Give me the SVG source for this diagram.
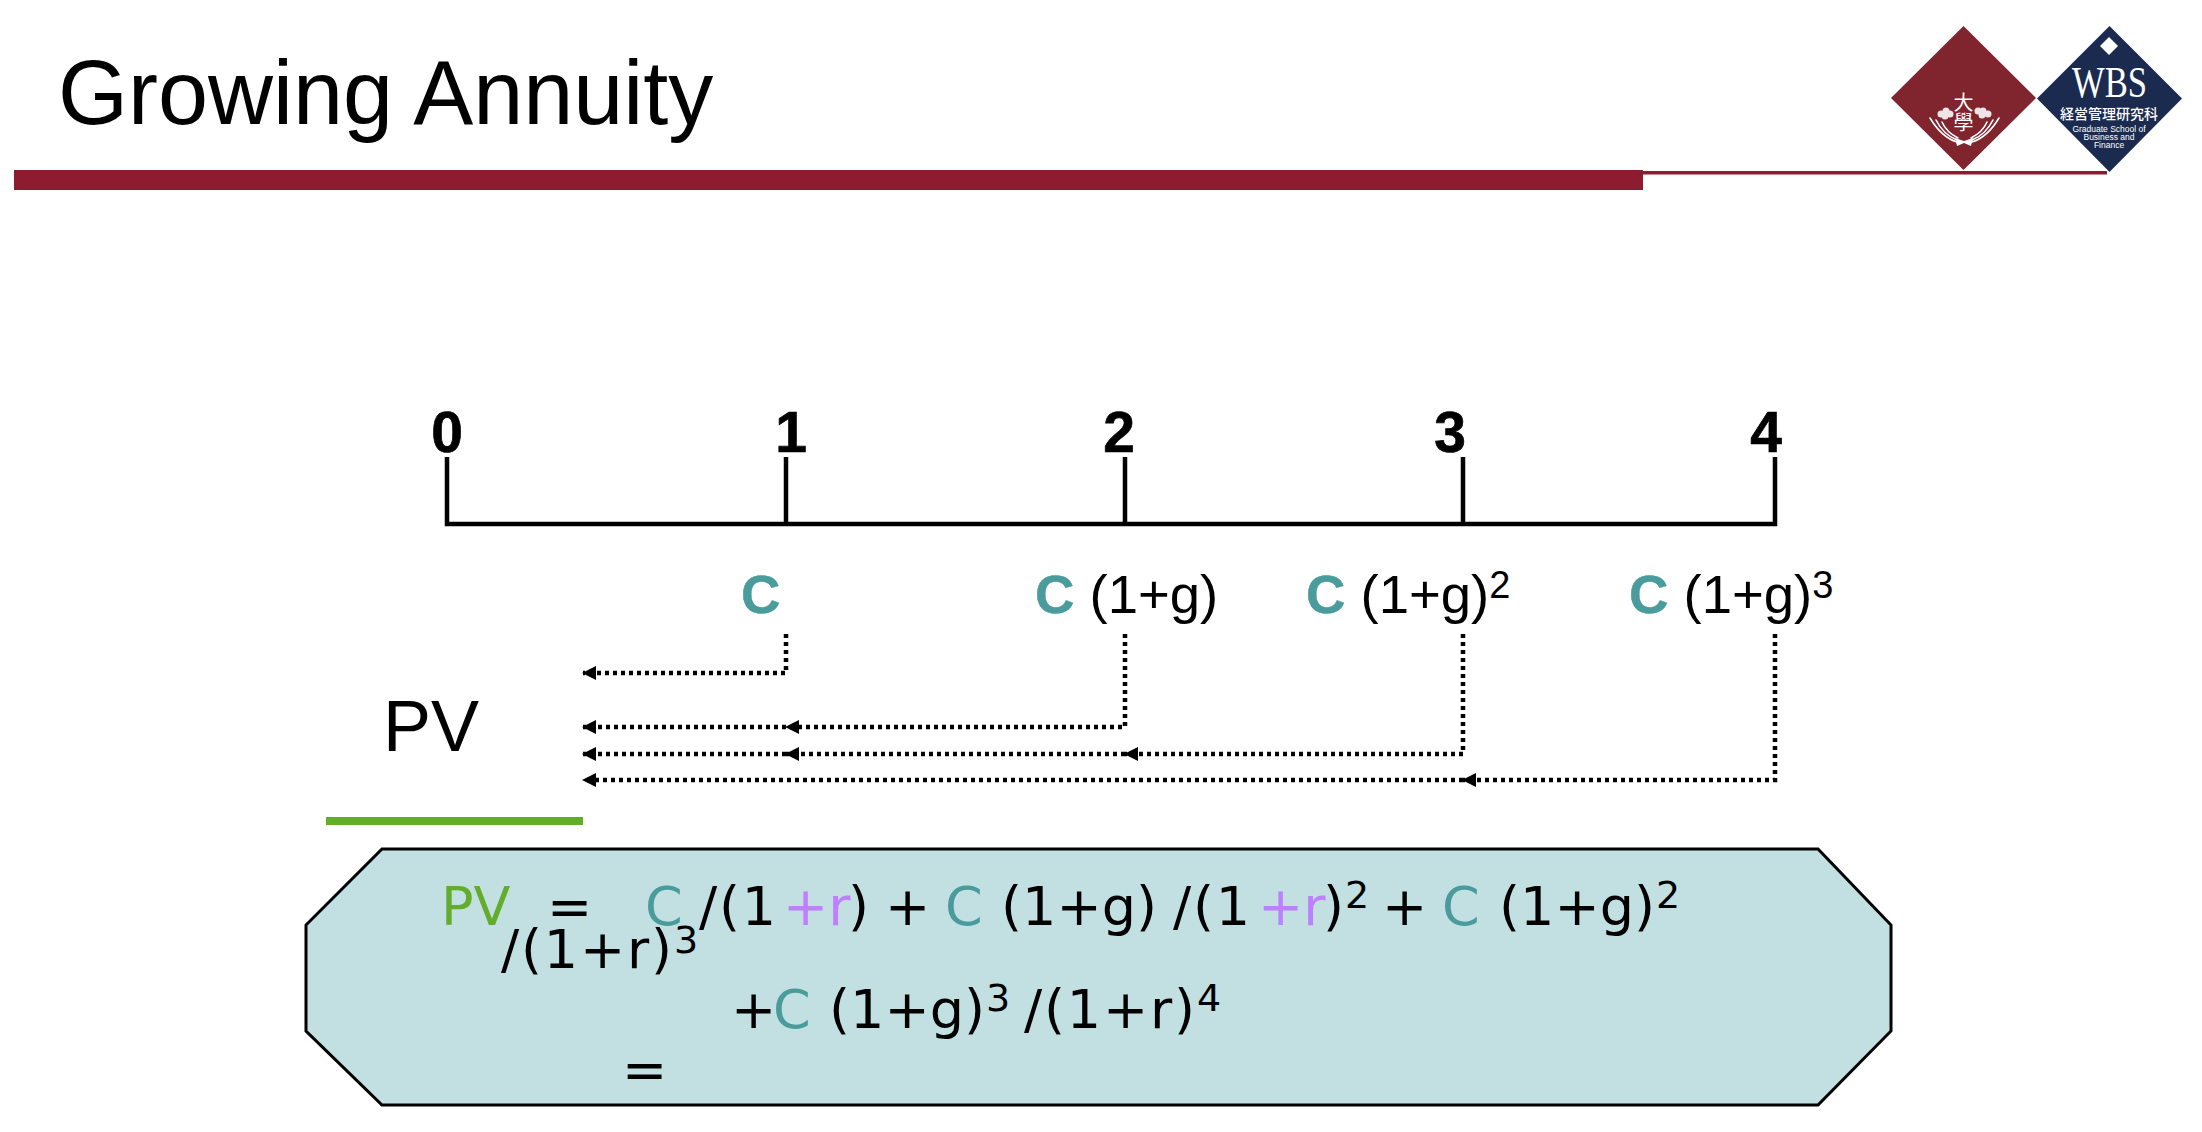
<svg xmlns="http://www.w3.org/2000/svg" width="2202" height="1132" viewBox="0 0 2202 1132">
<style>
.s{font-family:"Liberation Sans",Arial,sans-serif}
.d{font-family:"DejaVu Sans",Verdana,sans-serif;font-size:54px;fill:#000}
.t{fill:#499b9c}.p{fill:#bf80ff}.g{fill:#62ad2b}
.n{font-size:57px;font-weight:700;text-anchor:middle;stroke:#000;stroke-width:.7}
.l{font-size:54.500px}.lc{font-weight:700;fill:#499b9c;stroke:#499b9c;stroke-width:.5}
.u{font-size:38px}
.su{font-size:38px}
.ax{fill:none;stroke:#000;stroke-width:4.500}
.dot{fill:none;stroke:#000;stroke-width:4.500;stroke-dasharray:4 4}
.w{fill:#fff}
.ws{letter-spacing:1.800px}
.wh{fill:none;stroke:#fff;stroke-linecap:round}
</style>
<defs>
<marker id="ah" markerUnits="userSpaceOnUse" markerWidth="14" markerHeight="14" refX="13" refY="7" orient="auto"><path d="M0 0V14L14 7Z" fill="#000"/></marker>
</defs>
<rect width="2202" height="1132" fill="#fff"/>
<g id="title"><text class="s" x="58" y="124" font-size="90">Growing Annuity</text></g>
<g id="header-rule"><rect x="14" y="170" width="1629" height="20" fill="#8e1c31"/><rect x="1643" y="171" width="464" height="3.500" fill="#8e1c31"/></g>
<g id="logo-waseda">
<path d="M1963.500 26L2036 98L1963.500 170L1891 98Z" fill="#80242e"/>
<text x="1963.500" y="110" font-size="20" text-anchor="middle" class="w" font-family="Noto Sans CJK TC,sans-serif">大</text>
<text x="1963.500" y="130" font-size="20" text-anchor="middle" class="w" font-family="Noto Sans CJK TC,sans-serif">學</text>
<g fill="#fff" opacity=".88">
<circle cx="1941" cy="114" r="3.500"/><circle cx="1946" cy="111" r="3.500"/><circle cx="1950" cy="114" r="3.500"/><circle cx="1945" cy="116" r="3.500"/>
<circle cx="1978" cy="111" r="3.500"/><circle cx="1983" cy="111" r="3.500"/><circle cx="1988" cy="114" r="3.500"/><circle cx="1982" cy="115" r="3.500"/>
</g>
<g class="wh" stroke-width="1.600">
<path d="M1930 118C1936 128 1944 138 1957 142"/><path d="M1936 120C1940 128 1947 136 1957 140"/><path d="M1942 122C1945 129 1950 134 1958 138"/>
<path d="M1999 118C1993 128 1985 138 1972 142"/><path d="M1993 120C1989 128 1982 136 1972 140"/><path d="M1987 122C1984 129 1979 134 1971 138"/>
</g>
<path d="M1955 138L1964 141L1973 138L1971 146L1964 143L1957 146Z" fill="#fff"/>
</g>
<g id="logo-wbs">
<path d="M2109.500 26L2182 98.500L2109.500 172L2037 98.500Z" fill="#1a2b4f"/>
<path d="M2109 37L2118 46L2109 55L2100 46Z" fill="#fff"/>
<text x="2072" y="97" font-family="Liberation Serif,serif" font-size="44" class="w" textLength="75" lengthAdjust="spacingAndGlyphs">WBS</text>
<text x="2109" y="119" font-family="Noto Sans CJK JP,sans-serif" font-size="14" font-weight="500" text-anchor="middle" class="w">経営管理研究科</text>
<g class="s w" font-size="8.500" text-anchor="middle"><text x="2109" y="132">Graduate School of</text><text x="2109" y="140">Business and</text><text x="2109" y="148">Finance</text></g>
</g>
<g id="timeline">
<path class="ax" d="M447 457V524H1775V457M786 457V524M1125 457V524M1463 457V524"/>
<g class="s"><text class="n" x="447" y="452">0</text><text class="n" x="791" y="452">1</text><text class="n" x="1119" y="452">2</text><text class="n" x="1450" y="452">3</text><text class="n" x="1766" y="452">4</text></g>
</g>
<g id="cashflow-1"><text class="s l lc" x="741" y="613">C</text></g>
<g id="cashflow-2"><text class="s l" x="1035" y="613"><tspan class="lc">C</tspan> (1+g)</text></g>
<g id="cashflow-3"><text class="s l" x="1306" y="613"><tspan class="lc">C</tspan> (1+g)<tspan class="u" dy="-15">2</tspan></text></g>
<g id="cashflow-4"><text class="s l" x="1629" y="613"><tspan class="lc">C</tspan> (1+g)<tspan class="u" dy="-15">3</tspan></text></g>
<g id="connectors">
<path class="dot" marker-end="url(#ah)" d="M786 634V673H583"/>
<path class="dot" marker-end="url(#ah)" d="M1125 634V727H786"/>
<path class="dot" marker-end="url(#ah)" d="M786 727H583"/>
<path class="dot" marker-end="url(#ah)" d="M1463 634V754H1125"/>
<path class="dot" marker-end="url(#ah)" d="M1125 754H786"/>
<path class="dot" marker-end="url(#ah)" d="M786 754H583"/>
<path class="dot" marker-end="url(#ah)" d="M1775 634V780H1463"/>
<path class="dot" marker-end="url(#ah)" d="M1463 780H583"/>
</g>
<g id="pv-label"><text class="s" x="383" y="751" font-size="72">PV</text><rect x="326" y="817" width="257" height="8" fill="#62ad2b"/></g>
<g id="formula-box">
<path d="M382 849H1818L1891 925V1031L1818 1105H382L306 1031V925Z" fill="#c2dfe1" stroke="#000" stroke-width="3"/>
<text class="d" y="925"><tspan class="g" x="441">PV</tspan><tspan x="547">=</tspan><tspan class="t" x="645">C</tspan><tspan class="ws" x="699">/(1</tspan><tspan class="p" x="783">+r</tspan><tspan x="848">)</tspan><tspan x="885">+</tspan><tspan class="t" x="945">C</tspan><tspan x="1001">(1+g)</tspan><tspan class="ws" x="1173">/(1</tspan><tspan class="p" x="1258">+r</tspan><tspan x="1323">)</tspan><tspan class="su" x="1345" y="908">2</tspan><tspan x="1382" y="925">+</tspan><tspan class="t" x="1442">C</tspan><tspan x="1499">(1+g)</tspan><tspan class="su" x="1656" y="908">2</tspan></text>
<text class="d" y="968"><tspan class="ws" x="501">/(1+r)</tspan><tspan class="su" x="674" y="953">3</tspan></text>
<text class="d" y="1028"><tspan x="731">+</tspan><tspan class="t" x="773">C</tspan><tspan x="829">(1+g)</tspan><tspan class="su" x="986" y="1011">3</tspan><tspan class="ws" x="1024" y="1028">/(1+r)</tspan><tspan class="su" x="1197" y="1011">4</tspan></text>
<text class="d" x="622" y="1088">=</text>
</g>
</svg>
